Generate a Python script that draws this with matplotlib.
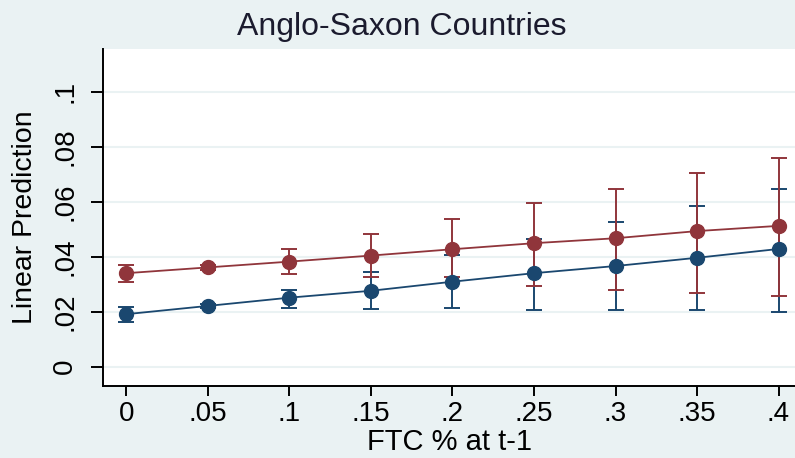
import matplotlib
matplotlib.use('Agg')
import matplotlib.pyplot as plt

# FTC share at t-1
x = [0, .05, .1, .15, .2, .25, .3, .35, .4]
x_labels = ['0', '.05', '.1', '.15', '.2', '.25', '.3', '.35', '.4']

# blue series: prediction and CI
blue = [0.0191, 0.0221, 0.0251, 0.0276, 0.0309, 0.0340, 0.0366, 0.0396, 0.0428]
blue_lo = [0.0161, 0.0213, 0.0212, 0.0211, 0.0212, 0.0205, 0.0205, 0.0205, 0.0199]
blue_hi = [0.0218, 0.0229, 0.0279, 0.0343, 0.0406, 0.0463, 0.0526, 0.0583, 0.0646]

# red series: prediction and CI
red = [0.0340, 0.0361, 0.0382, 0.0404, 0.0427, 0.0449, 0.0467, 0.0493, 0.0512]
red_lo = [0.0307, 0.0353, 0.0337, 0.0327, 0.0325, 0.0293, 0.0279, 0.0268, 0.0256]
red_hi = [0.0369, 0.0369, 0.0427, 0.0483, 0.0537, 0.0596, 0.0646, 0.0703, 0.0760]

y_ticks = [0, .02, .04, .06, .08, .1]
y_labels = ['0', '.02', '.04', '.06', '.08', '.1']

plt.rcParams['font.family'] = ['Liberation Sans', 'DejaVu Sans']

bg = '#eaf2f3'
c_blue = '#1a476f'
c_red = '#90353b'

fig = plt.figure(figsize=(7.95, 4.58), dpi=100, facecolor=bg)
ax = fig.add_axes([0.1296, 0.1572, 0.8704, 0.7358])
ax.set_facecolor('white')

for y, lo, hi, c in [(blue, blue_lo, blue_hi, c_blue), (red, red_lo, red_hi, c_red)]:
    err = [[v - l for v, l in zip(y, lo)], [h - v for v, h in zip(y, hi)]]
    ax.errorbar(x, y, yerr=err, fmt='none', ecolor=c, elinewidth=1.4,
                capsize=5.5, capthick=1.4, zorder=2)
for y, c in [(red, c_red), (blue, c_blue)]:
    ax.plot(x, y, color=c, linewidth=1.3, marker='o', markersize=10,
            markeredgecolor=c, zorder=3)

ax.set_xlim(-0.01436, 0.4101)
ax.set_ylim(-0.00702, 0.1155)
ax.set_xticks(x)
ax.set_xticklabels(x_labels)
ax.set_yticks(y_ticks)
ax.set_yticklabels(y_labels, rotation=90, va='center')

ax.grid(axis='y', color=bg, linewidth=1.5, zorder=0)
ax.set_axisbelow(True)
for s in ['top', 'right']:
    ax.spines[s].set_visible(False)
for s in ['left', 'bottom']:
    ax.spines[s].set_linewidth(1.4)
ax.tick_params(axis='both', labelsize=20, width=1.4, colors='black')
ax.tick_params(axis='x', length=7, pad=4)
ax.tick_params(axis='y', length=9, pad=9)

fig.text(0.505, 0.94, 'Anglo-Saxon Countries', fontsize=23, ha='center',
         va='center', color='#1b1b2e')
ax.set_xlabel('FTC % at t-1', fontsize=21, labelpad=0.5)
ax.set_ylabel('Linear Prediction', fontsize=20.5, labelpad=10)

fig.savefig('out.png', dpi=100, facecolor=bg)
